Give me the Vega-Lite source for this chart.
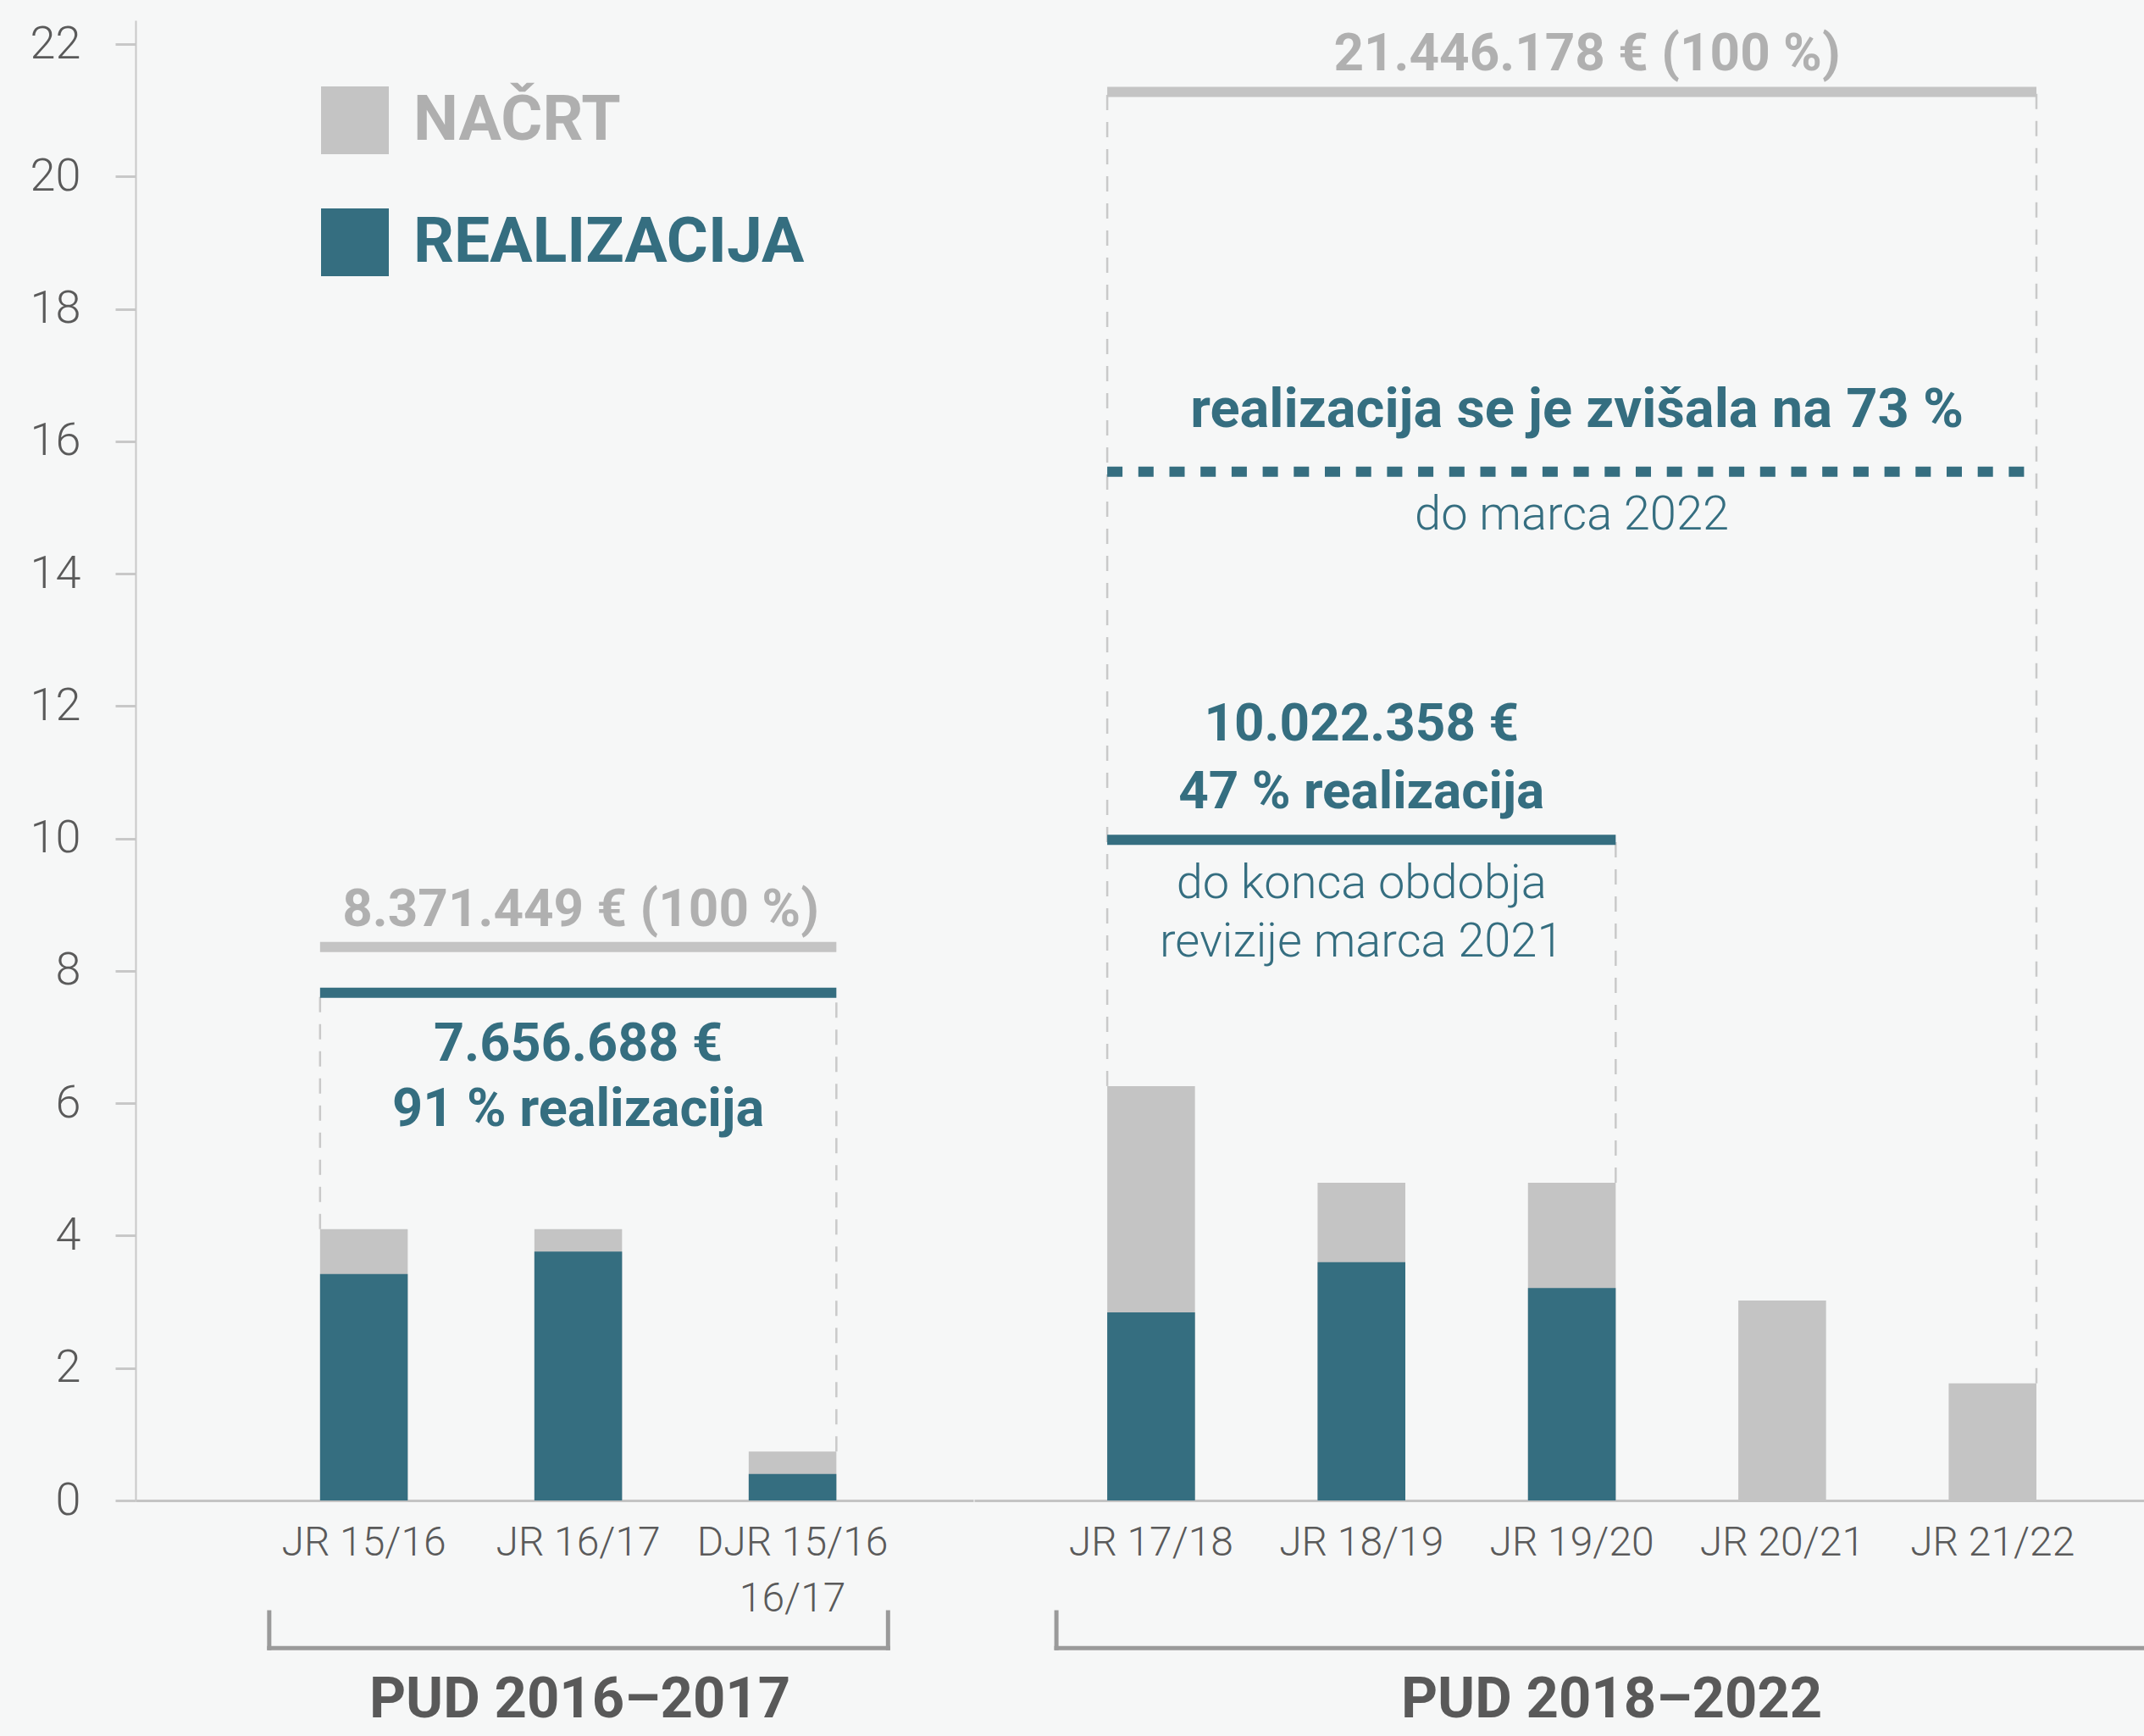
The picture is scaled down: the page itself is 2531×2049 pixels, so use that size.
{
  "$schema": "https://vega.github.io/schema/vega-lite/v6.json",
  "background": "#f6f7f7",
  "padding": {"left": 35, "top": 24, "right": 0, "bottom": 12},
  "bounds": "flush",
  "spacing": 1,
  "config": {"view": {"stroke": null}, "font": "Roboto"},
  "resolve": {"scale": {"y": "shared", "color": "shared", "x": "independent"}, "axis": {"x": "independent", "y": "independent"}},
  "datasets": {
    "stolpci": [
      {"obdobje": "PUD 2016–2017", "leto": "JR 15/16", "serija": "NAČRT", "vrednost": 4.10},
      {"obdobje": "PUD 2016–2017", "leto": "JR 16/17", "serija": "NAČRT", "vrednost": 4.10},
      {"obdobje": "PUD 2016–2017", "leto": "DJR 15/16 16/17", "serija": "NAČRT", "vrednost": 0.74},
      {"obdobje": "PUD 2018–2022", "leto": "JR 17/18", "serija": "NAČRT", "vrednost": 6.26},
      {"obdobje": "PUD 2018–2022", "leto": "JR 18/19", "serija": "NAČRT", "vrednost": 4.80},
      {"obdobje": "PUD 2018–2022", "leto": "JR 19/20", "serija": "NAČRT", "vrednost": 4.80},
      {"obdobje": "PUD 2018–2022", "leto": "JR 20/21", "serija": "NAČRT", "vrednost": 3.02},
      {"obdobje": "PUD 2018–2022", "leto": "JR 21/22", "serija": "NAČRT", "vrednost": 1.77},
      {"obdobje": "PUD 2016–2017", "leto": "JR 15/16", "serija": "REALIZACIJA", "vrednost": 3.42},
      {"obdobje": "PUD 2016–2017", "leto": "JR 16/17", "serija": "REALIZACIJA", "vrednost": 3.76},
      {"obdobje": "PUD 2016–2017", "leto": "DJR 15/16 16/17", "serija": "REALIZACIJA", "vrednost": 0.40},
      {"obdobje": "PUD 2018–2022", "leto": "JR 17/18", "serija": "REALIZACIJA", "vrednost": 2.84},
      {"obdobje": "PUD 2018–2022", "leto": "JR 18/19", "serija": "REALIZACIJA", "vrednost": 3.60},
      {"obdobje": "PUD 2018–2022", "leto": "JR 19/20", "serija": "REALIZACIJA", "vrednost": 3.21}
    ],
    "ravni": [
      {"obdobje": "PUD 2016–2017", "id": "nacrt", "od": "JR 15/16", "do": "DJR 15/16 16/17", "vrednost": 8.36},
      {"obdobje": "PUD 2016–2017", "id": "realizacija", "od": "JR 15/16", "do": "DJR 15/16 16/17", "vrednost": 7.67},
      {"obdobje": "PUD 2018–2022", "id": "nacrt", "od": "JR 17/18", "do": "JR 21/22", "vrednost": 21.28},
      {"obdobje": "PUD 2018–2022", "id": "realizacija", "od": "JR 17/18", "do": "JR 19/20", "vrednost": 9.98},
      {"obdobje": "PUD 2018–2022", "id": "realizacija 2022", "od": "JR 17/18", "do": "JR 21/22", "vrednost": 15.54}
    ],
    "crte": [
      {"obdobje": "PUD 2016–2017", "leto": "JR 15/16", "rob": "levo", "od": 4.10, "do": 7.67},
      {"obdobje": "PUD 2016–2017", "leto": "DJR 15/16 16/17", "rob": "desno", "od": 0.74, "do": 7.67},
      {"obdobje": "PUD 2018–2022", "leto": "JR 17/18", "rob": "levo", "od": 6.26, "do": 21.28},
      {"obdobje": "PUD 2018–2022", "leto": "JR 19/20", "rob": "desno", "od": 4.80, "do": 9.98},
      {"obdobje": "PUD 2018–2022", "leto": "JR 21/22", "rob": "desno", "od": 1.77, "do": 21.28}
    ],
    "napisi": [
      {"id": "n1", "leto": "JR 16/17", "vrednost": 8.36, "besedilo": "8.371.449 € (100 %)"},
      {"id": "r1", "leto": "JR 16/17", "vrednost": 7.67, "besedilo": "7.656.688 €\n91 % realizacija"},
      {"id": "n2", "leto": "JR 19/20", "vrednost": 21.28, "besedilo": "21.446.178 € (100 %)"},
      {"id": "r2", "leto": "JR 18/19", "vrednost": 9.98, "besedilo": "10.022.358 €\n47 % realizacija"},
      {"id": "o2", "leto": "JR 18/19", "vrednost": 9.98, "besedilo": "do konca obdobja\nrevizije marca 2021"},
      {"id": "r3", "leto": "JR 19/20", "vrednost": 15.54, "besedilo": "realizacija se je zvišala na 73 %"},
      {"id": "o3", "leto": "JR 19/20", "vrednost": 15.54, "besedilo": "do marca 2022"}
    ],
    "obdobja": [
      {"obdobje": "PUD 2016–2017", "prvo": "JR 15/16", "sredina": "JR 16/17", "zadnje": "DJR 15/16 16/17"},
      {"obdobje": "PUD 2018–2022", "prvo": "JR 17/18", "sredina": "JR 19/20", "zadnje": "JR 21/22"}
    ]
  },
  "hconcat": [
    {
      "width": 989,
      "height": 1747,
      "layer": [
        {
          "data": {"name": "stolpci"},
          "transform": [{"filter": "datum.obdobje === 'PUD 2016–2017'"}],
          "mark": {"type": "bar"},
          "encoding": {
            "x": {"field": "leto", "type": "nominal", "title": null,
              "scale": {"domain": ["JR 15/16", "JR 16/17", "DJR 15/16 16/17"], "paddingInner": 0.591, "paddingOuter": 0.75, "align": 0.574},
              "axis": {"title": null, "ticks": false, "tickSize": 0, "domainColor": "#c4c4c4", "domainWidth": 3, "labelFont": "Roboto", "labelFontWeight": 300, "labelFontSize": 48, "labelColor": "#5a5a5a", "labelPadding": 26, "labelLimit": 400, "labelLineHeight": 66, "labelOverlap": false, "labelAngle": 0,
                "labelExpr": "length(datum.label) > 9 ? [slice(datum.label, 0, 9), slice(datum.label, 10)] : datum.label"}},
            "y": {"field": "vrednost", "type": "quantitative", "stack": null, "title": null,
              "scale": {"domain": [0, 22.36], "nice": false},
              "axis": {"values": [0, 2, 4, 6, 8, 10, 12, 14, 16, 18, 20, 22], "format": "d", "title": null, "grid": false, "domainColor": "#c8c8c8", "domainWidth": 2, "tickColor": "#c8c8c8", "tickWidth": 3, "tickSize": 24, "labelFont": "Roboto", "labelFontWeight": 300, "labelFontSize": 54, "labelColor": "#5a5a5a", "labelPadding": 41}},
            "color": {"field": "serija", "type": "nominal",
              "scale": {"domain": ["NAČRT", "REALIZACIJA"], "range": ["#c4c4c4", "#356e80"]},
              "legend": {"title": null, "orient": "none", "legendX": 219, "legendY": 78, "symbolType": "square", "symbolSize": 6400, "symbolStrokeWidth": 0, "symbolOpacity": 1, "labelFont": "Roboto", "labelFontSize": 75, "labelFontWeight": 700, "labelOffset": 29, "labelLimit": 0, "rowPadding": 64, "padding": 0,
                "encode": {"labels": {"update": {"fill": {"signal": "datum.label === 'NAČRT' ? '#afafaf' : '#356e80'"}}}}}}
          }
        },
        {
          "data": {"name": "crte"},
          "transform": [{"filter": "datum.obdobje === 'PUD 2016–2017' && datum.rob === 'levo'"}],
          "mark": {"type": "rule", "color": "#c9c9c9", "strokeWidth": 2.5, "strokeDash": [18, 14]},
          "encoding": {
            "x": {"field": "leto", "type": "nominal", "bandPosition": 0, "title": null},
            "y": {"field": "od", "type": "quantitative", "title": null},
            "y2": {"field": "do"}
          }
        },
        {
          "data": {"name": "crte"},
          "transform": [{"filter": "datum.obdobje === 'PUD 2016–2017' && datum.rob === 'desno'"}],
          "mark": {"type": "rule", "color": "#c9c9c9", "strokeWidth": 2.5, "strokeDash": [18, 14]},
          "encoding": {
            "x": {"field": "leto", "type": "nominal", "bandPosition": 1, "title": null},
            "y": {"field": "od", "type": "quantitative", "title": null},
            "y2": {"field": "do"}
          }
        },
        {
          "data": {"name": "ravni"},
          "transform": [{"filter": "datum.obdobje === 'PUD 2016–2017' && datum.id === 'nacrt'"}],
          "mark": {"type": "rule", "color": "#c4c4c4", "strokeWidth": 12},
          "encoding": {
            "x": {"field": "od", "type": "nominal", "bandPosition": 0, "title": null},
            "x2": {"field": "do", "bandPosition": 1},
            "y": {"field": "vrednost", "type": "quantitative", "title": null}
          }
        },
        {
          "data": {"name": "ravni"},
          "transform": [{"filter": "datum.obdobje === 'PUD 2016–2017' && datum.id === 'realizacija'"}],
          "mark": {"type": "rule", "color": "#356e80", "strokeWidth": 12},
          "encoding": {
            "x": {"field": "od", "type": "nominal", "bandPosition": 0, "title": null},
            "x2": {"field": "do", "bandPosition": 1},
            "y": {"field": "vrednost", "type": "quantitative", "title": null}
          }
        },
        {
          "data": {"name": "napisi"},
          "transform": [{"filter": "datum.id === 'n1'"}],
          "mark": {"type": "text", "font": "Roboto", "fontWeight": 700, "fontSize": 62, "color": "#b0b0b0", "align": "center", "baseline": "alphabetic", "dy": -25, "dx": 3},
          "encoding": {
            "x": {"field": "leto", "type": "nominal", "title": null},
            "y": {"field": "vrednost", "type": "quantitative", "title": null},
            "text": {"field": "besedilo"}
          }
        },
        {
          "data": {"name": "napisi"},
          "transform": [{"filter": "datum.id === 'r1'"}],
          "mark": {"type": "text", "font": "Roboto", "fontWeight": 700, "fontSize": 63, "color": "#356e80", "align": "center", "baseline": "alphabetic", "dy": 80, "lineBreak": "\n", "lineHeight": 77},
          "encoding": {
            "x": {"field": "leto", "type": "nominal", "title": null},
            "y": {"field": "vrednost", "type": "quantitative", "title": null},
            "text": {"field": "besedilo"}
          }
        },
        {
          "data": {"name": "obdobja"},
          "transform": [{"filter": "datum.obdobje === 'PUD 2016–2017'"}],
          "mark": {"type": "rule", "color": "#9a9a9a", "strokeWidth": 5, "strokeCap": "square", "xOffset": -60, "x2Offset": 61},
          "encoding": {
            "x": {"field": "prvo", "type": "nominal", "bandPosition": 0, "title": null},
            "x2": {"field": "zadnje", "bandPosition": 1},
            "y": {"datum": -2.23}
          }
        },
        {
          "data": {"name": "obdobja"},
          "transform": [{"filter": "datum.obdobje === 'PUD 2016–2017'"}],
          "mark": {"type": "rule", "color": "#9a9a9a", "strokeWidth": 5, "strokeCap": "square", "xOffset": -60},
          "encoding": {
            "x": {"field": "prvo", "type": "nominal", "bandPosition": 0, "title": null},
            "y": {"datum": -1.69},
            "y2": {"datum": -2.23}
          }
        },
        {
          "data": {"name": "obdobja"},
          "transform": [{"filter": "datum.obdobje === 'PUD 2016–2017'"}],
          "mark": {"type": "rule", "color": "#9a9a9a", "strokeWidth": 5, "strokeCap": "square", "xOffset": 61},
          "encoding": {
            "x": {"field": "zadnje", "type": "nominal", "bandPosition": 1, "title": null},
            "y": {"datum": -1.69},
            "y2": {"datum": -2.23}
          }
        },
        {
          "data": {"name": "obdobja"},
          "transform": [{"filter": "datum.obdobje === 'PUD 2016–2017'"}],
          "mark": {"type": "text", "font": "Roboto", "fontWeight": 700, "fontSize": 67, "color": "#595959", "align": "center", "baseline": "alphabetic", "dx": 2},
          "encoding": {
            "x": {"field": "sredina", "type": "nominal", "title": null},
            "y": {"datum": -3.28},
            "text": {"field": "obdobje"}
          }
        }
      ]
    },
    {
      "width": 1381,
      "height": 1747,
      "layer": [
        {
          "data": {"name": "stolpci"},
          "transform": [{"filter": "datum.obdobje === 'PUD 2018–2022'"}],
          "mark": {"type": "bar"},
          "encoding": {
            "x": {"field": "leto", "type": "nominal", "title": null,
              "scale": {"domain": ["JR 17/18", "JR 18/19", "JR 19/20", "JR 20/21", "JR 21/22"], "paddingInner": 0.583, "paddingOuter": 0.572, "align": 0.553},
              "axis": {"title": null, "ticks": false, "tickSize": 0, "domainColor": "#c4c4c4", "domainWidth": 3, "labelFont": "Roboto", "labelFontWeight": 300, "labelFontSize": 48, "labelColor": "#5a5a5a", "labelPadding": 26, "labelLimit": 400, "labelOverlap": false, "labelAngle": 0}},
            "y": {"field": "vrednost", "type": "quantitative", "stack": null, "title": null,
              "scale": {"domain": [0, 22.36], "nice": false}, "axis": null},
            "color": {"field": "serija", "type": "nominal",
              "scale": {"domain": ["NAČRT", "REALIZACIJA"], "range": ["#c4c4c4", "#356e80"]},
              "legend": {"title": null, "orient": "none", "legendX": 219, "legendY": 78, "symbolType": "square", "symbolSize": 6400, "symbolStrokeWidth": 0, "symbolOpacity": 1, "labelFont": "Roboto", "labelFontSize": 75, "labelFontWeight": 700, "labelOffset": 29, "labelLimit": 0, "rowPadding": 64, "padding": 0,
                "encode": {"labels": {"update": {"fill": {"signal": "datum.label === 'NAČRT' ? '#afafaf' : '#356e80'"}}}}}}
          }
        },
        {
          "data": {"name": "crte"},
          "transform": [{"filter": "datum.obdobje === 'PUD 2018–2022' && datum.rob === 'levo'"}],
          "mark": {"type": "rule", "color": "#c9c9c9", "strokeWidth": 2.5, "strokeDash": [18, 14]},
          "encoding": {
            "x": {"field": "leto", "type": "nominal", "bandPosition": 0, "title": null},
            "y": {"field": "od", "type": "quantitative", "title": null},
            "y2": {"field": "do"}
          }
        },
        {
          "data": {"name": "crte"},
          "transform": [{"filter": "datum.obdobje === 'PUD 2018–2022' && datum.rob === 'desno'"}],
          "mark": {"type": "rule", "color": "#c9c9c9", "strokeWidth": 2.5, "strokeDash": [18, 14]},
          "encoding": {
            "x": {"field": "leto", "type": "nominal", "bandPosition": 1, "title": null},
            "y": {"field": "od", "type": "quantitative", "title": null},
            "y2": {"field": "do"}
          }
        },
        {
          "data": {"name": "ravni"},
          "transform": [{"filter": "datum.obdobje === 'PUD 2018–2022' && datum.id === 'nacrt'"}],
          "mark": {"type": "rule", "color": "#c4c4c4", "strokeWidth": 12},
          "encoding": {
            "x": {"field": "od", "type": "nominal", "bandPosition": 0, "title": null},
            "x2": {"field": "do", "bandPosition": 1},
            "y": {"field": "vrednost", "type": "quantitative", "title": null}
          }
        },
        {
          "data": {"name": "ravni"},
          "transform": [{"filter": "datum.obdobje === 'PUD 2018–2022' && datum.id === 'realizacija'"}],
          "mark": {"type": "rule", "color": "#356e80", "strokeWidth": 12},
          "encoding": {
            "x": {"field": "od", "type": "nominal", "bandPosition": 0, "title": null},
            "x2": {"field": "do", "bandPosition": 1},
            "y": {"field": "vrednost", "type": "quantitative", "title": null}
          }
        },
        {
          "data": {"name": "ravni"},
          "transform": [{"filter": "datum.obdobje === 'PUD 2018–2022' && datum.id === 'realizacija 2022'"}],
          "mark": {"type": "rule", "color": "#356e80", "strokeWidth": 12, "strokeDash": [18, 18.7]},
          "encoding": {
            "x": {"field": "od", "type": "nominal", "bandPosition": 0, "title": null},
            "x2": {"field": "do", "bandPosition": 1},
            "y": {"field": "vrednost", "type": "quantitative", "title": null}
          }
        },
        {
          "data": {"name": "napisi"},
          "transform": [{"filter": "datum.id === 'n2'"}],
          "mark": {"type": "text", "font": "Roboto", "fontWeight": 700, "fontSize": 62, "color": "#b0b0b0", "align": "center", "baseline": "alphabetic", "dy": -25, "dx": 18},
          "encoding": {
            "x": {"field": "leto", "type": "nominal", "title": null},
            "y": {"field": "vrednost", "type": "quantitative", "title": null},
            "text": {"field": "besedilo"}
          }
        },
        {
          "data": {"name": "napisi"},
          "transform": [{"filter": "datum.id === 'r3'"}],
          "mark": {"type": "text", "font": "Roboto", "fontWeight": 700, "fontSize": 65, "color": "#356e80", "align": "center", "baseline": "alphabetic", "dy": -53, "dx": 6},
          "encoding": {
            "x": {"field": "leto", "type": "nominal", "title": null},
            "y": {"field": "vrednost", "type": "quantitative", "title": null},
            "text": {"field": "besedilo"}
          }
        },
        {
          "data": {"name": "napisi"},
          "transform": [{"filter": "datum.id === 'o3'"}],
          "mark": {"type": "text", "font": "Roboto", "fontWeight": 300, "fontSize": 56, "color": "#356e80", "align": "center", "baseline": "alphabetic", "dy": 68},
          "encoding": {
            "x": {"field": "leto", "type": "nominal", "title": null},
            "y": {"field": "vrednost", "type": "quantitative", "title": null},
            "text": {"field": "besedilo"}
          }
        },
        {
          "data": {"name": "napisi"},
          "transform": [{"filter": "datum.id === 'r2'"}],
          "mark": {"type": "text", "font": "Roboto", "fontWeight": 700, "fontSize": 62, "color": "#356e80", "align": "center", "baseline": "alphabetic", "dy": -117, "lineBreak": "\n", "lineHeight": 80},
          "encoding": {
            "x": {"field": "leto", "type": "nominal", "title": null},
            "y": {"field": "vrednost", "type": "quantitative", "title": null},
            "text": {"field": "besedilo"}
          }
        },
        {
          "data": {"name": "napisi"},
          "transform": [{"filter": "datum.id === 'o2'"}],
          "mark": {"type": "text", "font": "Roboto", "fontWeight": 300, "fontSize": 56, "color": "#356e80", "align": "center", "baseline": "alphabetic", "dy": 69, "lineBreak": "\n", "lineHeight": 69},
          "encoding": {
            "x": {"field": "leto", "type": "nominal", "title": null},
            "y": {"field": "vrednost", "type": "quantitative", "title": null},
            "text": {"field": "besedilo"}
          }
        },
        {
          "data": {"name": "obdobja"},
          "transform": [{"filter": "datum.obdobje === 'PUD 2018–2022'"}],
          "mark": {"type": "rule", "color": "#9a9a9a", "strokeWidth": 5, "strokeCap": "square", "xOffset": -60, "x2Offset": 130},
          "encoding": {
            "x": {"field": "prvo", "type": "nominal", "bandPosition": 0, "title": null},
            "x2": {"field": "zadnje", "bandPosition": 1},
            "y": {"datum": -2.23}
          }
        },
        {
          "data": {"name": "obdobja"},
          "transform": [{"filter": "datum.obdobje === 'PUD 2018–2022'"}],
          "mark": {"type": "rule", "color": "#9a9a9a", "strokeWidth": 5, "strokeCap": "square", "xOffset": -60},
          "encoding": {
            "x": {"field": "prvo", "type": "nominal", "bandPosition": 0, "title": null},
            "y": {"datum": -1.69},
            "y2": {"datum": -2.23}
          }
        },
        {
          "data": {"name": "obdobja"},
          "transform": [{"filter": "datum.obdobje === 'PUD 2018–2022'"}],
          "mark": {"type": "text", "font": "Roboto", "fontWeight": 700, "fontSize": 67, "color": "#595959", "align": "center", "baseline": "alphabetic", "dx": 47},
          "encoding": {
            "x": {"field": "sredina", "type": "nominal", "title": null},
            "y": {"datum": -3.28},
            "text": {"field": "obdobje"}
          }
        }
      ]
    }
  ]
}
